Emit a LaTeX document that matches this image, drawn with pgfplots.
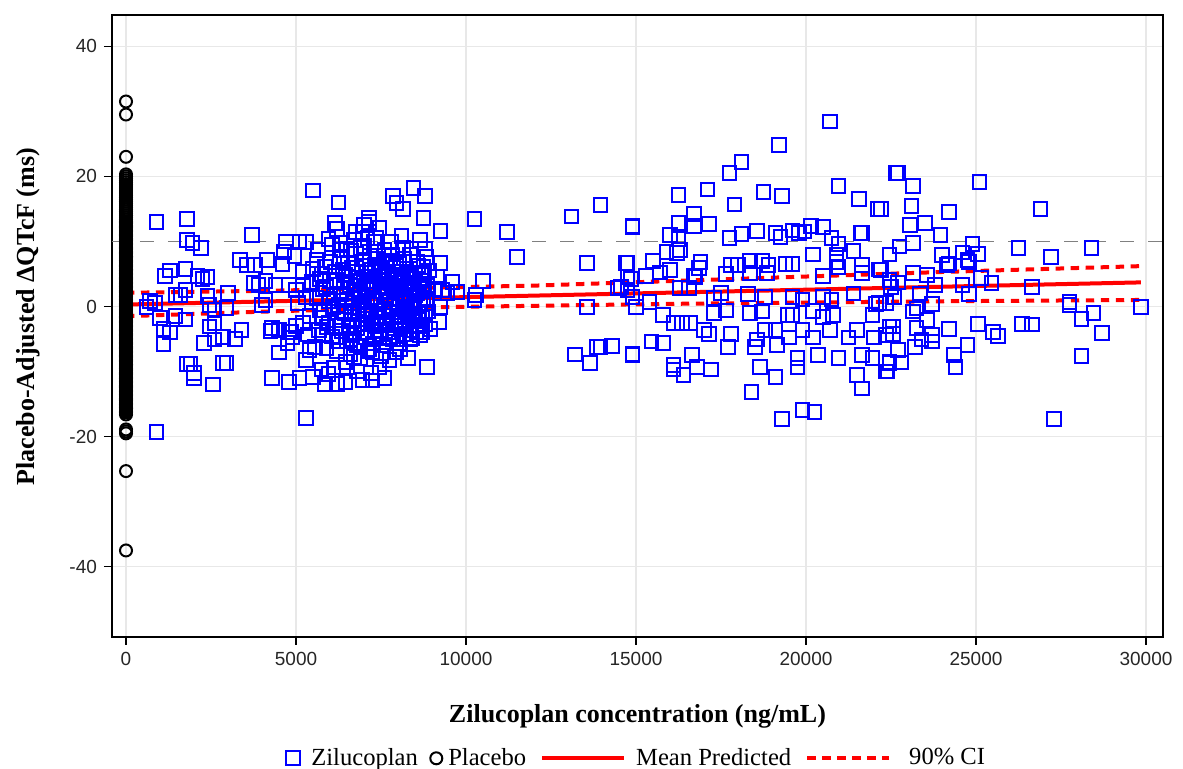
\documentclass[border=0pt]{standalone}
\usepackage{fontspec}
\setmainfont{Liberation Serif}
\newfontfamily\arialfont{Liberation Sans}
\usepackage{pgfplots}
\usepackage{pgfplotstable}
\pgfplotsset{compat=1.18}
\definecolor{gridgray}{RGB}{232,232,232}
\definecolor{refgray}{RGB}{128,128,128}
\pgfplotsset{
  sqimg/.style={legend image code/.code={\draw[##1] plot coordinates {(3.4pt,0pt)}; \path (9.5pt,0pt);}},
  ciimg/.style={legend image code/.code={\path (0pt,0pt); \draw[##1] plot coordinates {(7pt,0pt)};}},
  longline/.style={legend image code/.code={\path (0pt,0pt); \draw[##1] (5pt,0pt) -- (46pt,0pt); \path (48pt,0pt);}},
  dotline/.style={legend image code/.code={\path (0pt,0pt); \draw[##1] (5pt,0pt) -- (46pt,0pt); \path (52pt,0pt);}},
}
\pgfplotstableread{
y
31.5
29.5
23
20.3
20.0
19.7
19.4
19.1
18.8
18.5
18.2
17.9
17.6
17.3
17.0
16.7
16.4
16.1
15.8
15.5
15.2
14.9
14.6
14.3
14.0
13.7
13.4
13.1
12.9
12.7
12.5
12.3
12.1
11.9
11.7
11.5
11.3
11.1
10.9
10.7
10.5
10.3
10.1
9.9
9.7
9.5
9.3
9.1
8.9
8.7
8.5
8.3
8.1
7.9
7.7
7.5
7.3
7.1
6.9
6.7
6.5
6.3
6.1
5.9
5.7
5.5
5.3
5.1
4.9
4.7
4.5
4.3
4.1
3.9
3.7
3.5
3.3
3.1
2.9
2.7
2.5
2.3
2.1
1.9
1.7
1.5
1.3
1.1
0.9
0.7
0.5
0.3
0.1
-0.1
-0.3
-0.5
-0.7
-0.9
-1.1
-1.3
-1.5
-1.7
-1.9
-2.1
-2.3
-2.5
-2.7
-2.9
-3.1
-3.3
-3.5
-3.7
-3.9
-4.1
-4.3
-4.5
-4.7
-4.9
-5.1
-5.3
-5.5
-5.7
-5.9
-6.1
-6.3
-6.5
-6.7
-6.9
-7.1
-7.3
-7.5
-7.7
-7.9
-8.1
-8.3
-8.5
-8.7
-8.9
-9.1
-9.3
-9.5
-9.7
-9.9
-10.1
-10.3
-10.5
-10.7
-10.9
-11.1
-11.3
-11.5
-11.7
-11.9
-12.1
-12.3
-12.5
-12.7
-12.9
-13.1
-13.3
-13.5
-13.7
-13.9
-14.1
-14.3
-14.5
-14.7
-14.9
-15.1
-15.3
-15.5
-15.7
-15.9
-16.1
-16.3
-16.6
-18.9
-19.2
-19.5
-25.3
-37.5
}\placebotable
\begin{document}
\begin{tikzpicture}
\path[use as bounding box] (-56pt,-66pt) rectangle (535.5pt,318.5pt);
\begin{axis}[
  at={(0,0)}, anchor=south west,
  scale only axis, width=525.5pt, height=311pt,
  xmin=-412, xmax=30500, ymin=-50.8, ymax=44.8,
  xtick={0,5000,10000,15000,20000,25000,30000},
  ytick={-40,-20,0,20,40},
  scaled x ticks=false,
  xticklabel style={/pgf/number format/1000 sep={}},
  /pgf/number format/assume math mode=true,
  ticklabel style={font=\arialfont\fontsize{9.5}{11}\selectfont, text=black!85},
  tick align=outside, major tick length=4pt,
  xtick pos=bottom, ytick pos=left,
  tick style={black, line width=0.7pt},
  grid=major, major grid style={gridgray, line width=0.7pt},
  axis line style={black, line width=1pt},
  xlabel={Zilucoplan concentration (ng/mL)},
  ylabel={Placebo-Adjusted ΔQTcF (ms)},
  label style={font=\bfseries\fontsize{13}{15}\selectfont},
  xlabel style={at={(axis description cs:0.5,-0.127)}, anchor=center},
  ylabel style={at={(axis description cs:-0.08,0.515)}, anchor=center},
  legend style={at={(axis description cs:0.5,-0.195)}, anchor=center, draw=none,
    font=\fontsize{12.3}{14}\selectfont, legend columns=4,
    /tikz/every even column/.append style={column sep=0pt},
    /tikz/every odd column/.append style={column sep=1pt}},
  legend cell align=left,
]
% Zilucoplan
\addplot[only marks, mark=square, mark size=3.4pt, blue, mark options={line width=1pt}, sqimg] coordinates {
(900,13) (1800,13.4) (1800,10.2) (1950,9.8) (2200,9) (700,0.8) (850,0.5) (1150,4.7) (1300,5.5) (1750,5.8)
(1750,2.5) (2100,4.7) (2250,4.2) (2400,4.5) (1600,1.8) (1000,-1.8) (1100,-3.5) (1300,-4) (1100,-5.8) (1450,-1.5)
(1750,-2) (2400,1.6) (2450,0.2) (2600,-0.5) (1800,-8.8) (1900,-8.8) (2000,-10.2) (2000,-11) (2550,-12) (900,-19.3)
(2950,-8.7) (2600,-5.1) (2300,-5.6) (2450,-3.1) (600,-0.1) (1450,1.8) (2950,-0.2) (3200,-5) (2600,-2.5) (3000,2.1)
(5500,17.8) (6250,16) (6150,12.8) (6200,11.9) (3700,11) (4700,10) (5300,9.9) (4650,8.4) (4950,7.8) (3350,7.1)
(3550,6.4) (3800,6.4) (4150,7.1) (4600,6.5) (3750,3.6) (4400,3.3) (4800,3.3) (5200,3.3) (5200,5.3) (4000,0.2)
(2850,-4.7) (3400,-3.6) (4300,-3.3) (4500,-3.6) (4800,-3.9) (5000,-3) (4750,-5.6) (4500,-7.1) (5400,-6.7) (5300,-8.2)
(2850,-8.7) (4300,-11) (4800,-11.6) (5100,-11) (5500,-10.8) (5850,-12) (5300,-17.1) (5750,-9.7) (6100,-9.4) (5800,-4.4)
(5200,-2.5) (4100,3.9) (3900,3.3) (4100,1) (4250,-3.8) (4900,-4.8) (5000,2.5) (5050,0.5) (5100,10) (5600,7.1)
(6350,8.7) (5700,-0.5) (6000,1.2) (4850,-3.9)
(8450,18.2) (7850,17) (7950,15.9) (8150,15) (8800,17) (8750,13.6) (7150,13) (7450,12.1) (6950,11.4) (7300,9.9)
(6900,9) (8150,9) (8800,8.8) (7400,7.4) (7850,6.8) (8350,7.9) (8750,6.1) (9150,4.5) (9600,3.8) (9750,2.2)
(9250,-0.1) (9200,-2.4) (8950,-3.5) (8650,-4.4) (8350,-5.1) (7950,-7.1) (8850,-9.3) (7450,-9.3) (7250,-7.1) (6700,-7.8)
(6500,-9.4) (6800,-10) (7250,-11.4) (7600,-11) (7200,-10.2) (8600,-1.2) (8850,0.5) (8050,-1.6) (7750,-4.7) (7450,-4.9)
(6600,-5.1) (7000,12.5) (7100,10.5) (6750,11.4) (7150,13.6) (6950,-11.3) (6450,-11.6) (6200,-11.9) (5950,-10.4) (9100,2.7)
(9300,2.5) (9450,2.1) (9250,6.7) (9250,11.6) (8650,10.2)
(5700,4.2) (5750,-1.8) (5800,2.6) (5850,6.1) (5900,-3.2) (5950,0.8) (6000,3.9) (6050,-4.6) (6100,1.7) (6150,5.4)
(6200,-2.1) (6250,0.2) (6300,7.3) (6350,-3.8) (6400,2.9) (6420,-0.7) (6450,4.8) (6480,-5.3) (6500,1.1) (6530,6.6)
(6560,-2.9) (6590,3.3) (6620,-1.2) (6650,5.9) (6680,0.5) (6700,-4.1) (6730,2.2) (6760,8.1) (6790,-3.3) (6820,4.4)
(6850,-0.3) (6880,1.9) (6900,-6.2) (6930,6.2) (6960,-1.9) (6990,3.6) (7020,0.9) (7050,-4.8) (7080,5.1) (7110,-2.6)
(7140,2.7) (7170,7.8) (7200,-0.9) (7230,3.9) (7260,-5.7) (7290,1.4) (7320,6.4) (7350,-3.0) (7380,0.3) (7410,4.6)
(7440,-1.5) (7470,2.4) (7500,-4.3) (7530,5.6) (7560,-0.6) (7590,3.1) (7620,-2.4) (7650,1.6) (7680,7.0) (7710,-3.9)
(7740,4.1) (7770,0.7) (7800,-1.4) (7830,2.9) (7860,-5.0) (7890,5.3) (7920,1.2) (7950,-2.2) (7980,3.7) (8010,0.0)
(8040,6.5) (8070,-3.5) (8100,2.0) (8130,-0.4) (8160,4.9) (8190,-2.7) (8220,1.5) (8250,5.8) (8280,-1.0) (8310,3.4)
(8340,-3.7) (8370,0.6) (8400,2.6) (8430,-2.0) (8460,4.3) (8490,-0.2) (8520,1.8) (8550,6.9) (8580,-3.1) (8610,2.8)
(8640,0.4) (8670,4.0) (8700,-1.6) (8730,2.3) (8760,5.2) (8790,-2.8) (8820,1.0) (8850,3.2) (8880,-0.8) (8910,5.5)
(5600,1.3) (5680,-3.6) (5760,5.0) (5820,-0.5) (5880,3.0) (5960,-2.5) (6020,6.8) (6080,-0.1) (6140,-3.0) (6210,4.1)
(6270,-5.4) (6330,1.9) (6390,5.7) (6440,-1.1) (6470,0.0) (6520,3.8) (6570,-4.4) (6610,8.6) (6640,-2.2) (6690,2.6)
(6720,-0.8) (6770,5.3) (6800,-6.0) (6840,1.4) (6870,3.9) (6910,-2.8) (6950,0.6) (6980,7.2) (7010,-4.0) (7060,2.9)
(7090,-1.3) (7130,4.6) (7160,-6.5) (7190,0.2) (7220,5.7) (7250,-2.5) (7280,3.3) (7310,-4.6) (7340,8.4) (7370,1.0)
(7400,-1.8) (7430,6.0) (7460,-3.6) (7490,0.9) (7520,3.0) (7550,-5.9) (7580,4.7) (7610,-0.3) (7640,2.2) (7670,-2.7)
(7700,5.0) (7730,0.1) (7760,-4.7) (7790,3.5) (7820,8.0) (7850,-0.9) (7880,2.5) (7910,-3.4) (7940,6.2) (7970,-1.7)
(8000,4.4) (8030,-5.6) (8060,1.3) (8090,3.9) (8120,-2.4) (8150,0.8) (8180,7.4) (8210,-4.2) (8240,3.0) (8270,-0.6)
(8300,5.1) (8330,-2.3) (8360,1.7) (8390,4.6) (8420,-4.9) (8450,0.3) (8480,3.6) (8510,-1.3) (8540,-3.9) (8570,2.1)
(8600,6.3) (8630,-2.1) (8660,0.9) (8690,4.8) (8720,-4.0) (8750,1.3) (8780,3.0) (8810,-1.1) (8840,7.6)
(6050,9.5) (6300,9.8) (6500,8.8) (6700,10.2) (7000,9.3) (7350,10.5) (7600,8.7) (7800,9.9) (8100,10.8) (8400,8.9)
(6200,-6.8) (6600,-7.3) (6900,-8.0) (7100,-6.9) (7500,-7.6) (7750,-8.2) (8050,-6.6) (8300,-7.9) (5900,-6.4) (6450,-8.5)
(5650,8.7) (5500,5.8) (5400,-1.5) (5300,1.4) (5450,3.8) (5350,-4.3) (5550,-6.2) (5950,10.4)
(10250,1) (10250,13.4) (10500,3.9) (11200,11.4) (11500,7.6) (10300,1.8) (13100,13.8) (13200,-7.4) (13550,6.7) (13550,-0.1)
(13650,-8.7) (13850,-6.2) (13950,15.6) (14300,-6.1) (14900,12.4) (14900,-7.3) (14750,2.5) (14550,3) (14850,4.2) (14750,6.7)
(20700,28.4) (19200,24.8) (18100,22.2) (17750,20.5) (16250,17.1) (17100,18) (18750,17.6) (19300,17) (17900,15.7) (20950,18.5)
(21550,16.5) (22100,15) (22650,20.5) (14900,12.2) (16250,12.8) (16700,14.2) (16700,12.4) (17150,12.7) (16000,11) (16250,10.4)
(16300,8.7) (15900,8.4) (16200,8.2) (17750,10.5) (18100,11.1) (18550,11.6) (19100,11.3) (19600,11.7) (19950,11.5) (20150,12.4)
(20500,12.2) (20750,10.5) (20950,9.6) (21600,11.3) (21650,11.3) (21400,8.5) (22450,8) (19250,10.7) (19800,11.3) (20200,8)
(20900,8) (20900,6.8) (21650,6.4) (22200,5.6) (14700,6.7) (15500,7) (15700,5.2) (16000,5.6) (16900,6.8) (16850,5.9)
(16750,4.5) (17800,6.4) (18000,6.4) (18350,7) (18700,7) (18900,6.4) (19400,6.5) (19600,6.5) (17650,5) (18350,5.1)
(18850,5.1) (14750,4.5) (15300,4.7) (16700,4.7) (20500,4.7) (20950,6.1) (21650,5.1) (22200,5.7) (22450,4.1) (14450,2.8)
(14900,1.5) (15000,-0.1) (15400,0.7) (16300,2.8) (16550,2.8) (17300,1.3) (17500,2.1) (18300,1.9) (18800,1.5) (19600,1.5)
(19900,1.1) (20500,1.5) (20750,1.1) (21400,2) (22050,0.4) (22600,1.5) (17300,-1) (17650,-0.6) (18350,-1) (18700,-0.8)
(19450,-1.3) (19600,-1.3) (20200,-0.7) (20500,-1.6) (20800,-1.3) (21950,-1.3) (22350,0.5) (15800,-1.3) (16100,-2.5) (16350,-2.5)
(16600,-2.5) (17000,-3.6) (17150,-4.2) (17800,-4.2) (18550,-5.1) (18800,-3.6) (19100,-3.6) (19500,-4.8) (19900,-3.6) (20200,-4.8)
(20700,-3.6) (21250,-4.8) (21500,-3.6) (22000,-4.8) (22450,-3.1) (22550,-4.2) (15450,-5.4) (15800,-5.6) (14300,-6.1) (13950,-6.2)
(14900,-7.5) (16650,-7.5) (16100,-9) (16100,-9.7) (16400,-10.5) (16800,-9.3) (17200,-9.7) (17700,-6.2) (18500,-6.2) (19150,-5.9)
(19750,-7.9) (20350,-7.5) (20950,-7.9) (21650,-7.5) (21950,-7.9) (22450,-8.7) (18650,-9.3) (19750,-9.4) (19100,-10.8) (21500,-10.5)
(22400,-10) (21650,-12.6) (18400,-13.1) (19300,-17.3) (19900,-15.9) (20250,-16.2)
(22700,20.5) (23150,18.5) (25100,19.1) (26900,15) (23100,15.4) (24200,14.5) (23050,12.5) (23500,12.8) (23950,11) (23150,9.8)
(22750,9.2) (22450,8) (22200,15) (24900,9.6) (25050,8.1) (24600,8.3) (24750,7.1) (24800,6.8) (24000,7.9) (24150,6.4)
(24200,6.6) (26250,9) (27200,7.6) (28400,9) (25150,4.4) (25450,3.6) (24600,3.3) (24800,1.9) (26650,3) (27750,0.7)
(27750,0.2) (28100,-1.9) (28450,-1) (28700,-4.1) (29850,-0.1) (23700,0.4) (23150,-0.8) (23250,-0.3) (23550,-2.1) (22550,-3.1)
(22350,-4.4) (23250,-3.3) (24200,-3.5) (25050,-2.7) (25500,-3.9) (25650,-4.5) (26350,-2.7) (26650,-2.8) (23700,-4.4) (23400,-5.1)
(23700,-5.4) (24750,-5.9) (23200,-6.2) (22700,-6.7) (24350,-7.5) (24400,-9.3) (22800,-8.6) (22450,-8.5) (22350,-10) (28100,-7.6)
(27300,-17.3) (22150,0.5) (22500,3) (22700,3.7) (23150,5.1) (23550,4.8) (23800,3.3) (23350,2) (22150,5.7)
};
\addlegendentry{Zilucoplan}
% Placebo
\addplot[only marks, mark=o, mark size=3pt, black, mark options={line width=1pt}, ciimg] table[x expr=0, y=y] {\placebotable};
\addlegendentry{Placebo}
% reference line
\addplot[refgray, line width=0.75pt, dash pattern=on 7pt off 7pt, forget plot] coordinates {(-412,10) (30500,10)};
% mean predicted
\addplot[red, line width=2pt, longline] coordinates {(0,0.3) (29850,3.7)};
\addlegendentry{Mean Predicted}
\addplot[red, line width=2pt, dash pattern=on 4.2pt off 3.3pt, dotline] coordinates {
(0,2.1) (4000,2.4) (8000,2.8) (12000,3.2) (16000,3.9) (20000,4.6) (24000,5.3) (29850,6.2)};
\addlegendentry{90\% CI}
\addplot[red, line width=2pt, dash pattern=on 4.2pt off 3.3pt, forget plot] coordinates {
(0,-1.5) (4000,-0.8) (8000,-0.2) (12000,0.1) (16000,0.4) (20000,0.6) (24000,0.8) (29850,1.0)};
\end{axis}
\end{tikzpicture}
\end{document}
